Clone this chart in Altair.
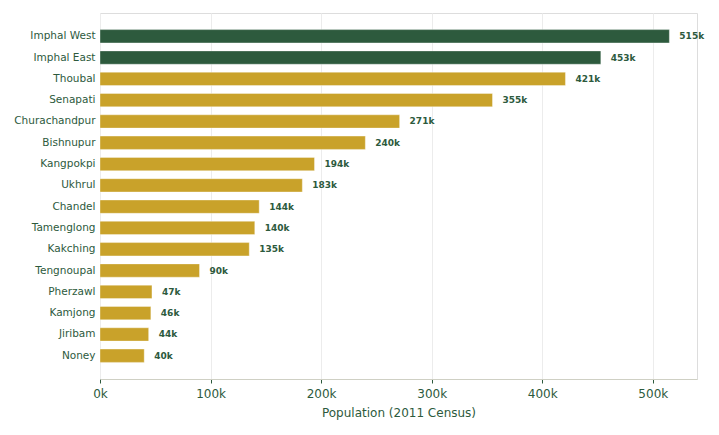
import altair as alt
import pandas as pd

districts = ["Imphal West", "Imphal East", "Thoubal", "Senapati", "Churachandpur",
             "Bishnupur", "Kangpokpi", "Ukhrul", "Chandel", "Tamenglong", "Kakching",
             "Tengnoupal", "Pherzawl", "Kamjong", "Jiribam", "Noney"]
population_k = [515, 453, 421, 355, 271, 240, 194, 183, 144, 140, 135, 90, 47, 46, 44, 40]
highlight = ["yes", "yes"] + ["no"] * 14

df = pd.DataFrame({
    "district": districts,
    "population": [v * 1000 for v in population_k],
    "label": [f"{v}k" for v in population_k],
    "hl": highlight,
})

GREEN = "#2d5a3d"
GOLD = "#c9a22a"
FONT = "DejaVu Sans"

y = alt.Y("district:N", sort=districts, title=None,
          scale=alt.Scale(paddingInner=0.375, paddingOuter=0.78),
          axis=alt.Axis(domain=False, ticks=False, labelColor=GREEN, labelFontSize=10.5,
                        labelFont=FONT, labelPadding=5, grid=False))
x = alt.X("population:Q", title="Population (2011 Census)",
          scale=alt.Scale(domain=[0, 540000], nice=False),
          axis=alt.Axis(values=[0, 100000, 200000, 300000, 400000, 500000],
                        labelExpr="format(datum.value/1000, 'd') + 'k'",
                        labelFlush=False,
                        labelColor=GREEN, labelFontSize=12, labelFont=FONT,
                        titleColor=GREEN, titleFontSize=12, titleFont=FONT, titleFontWeight="normal",
                        domainColor="#cfd0c4", tickColor=GREEN, tickSize=4,
                        gridColor="#ececec", labelPadding=5, titlePadding=8))

bars = alt.Chart(df).mark_bar(stroke="#ffffff", strokeWidth=0.6, strokeOpacity=0.6).encode(
    x=x, y=y,
    color=alt.Color("hl:N", scale=alt.Scale(domain=["yes", "no"], range=[GREEN, GOLD]), legend=None),
)

labels = alt.Chart(df).mark_text(align="left", baseline="middle", dx=10, fontSize=9,
                                 fontWeight="bold", color=GREEN, font=FONT).encode(
    x=alt.X("population:Q"), y=alt.Y("district:N", sort=districts), text="label:N")

chart = (bars + labels).properties(width=597, height=366).configure_view(stroke=None).configure(
    background="white")

chart.save("out.html", embed_options={"renderer": "svg", "actions": False})
